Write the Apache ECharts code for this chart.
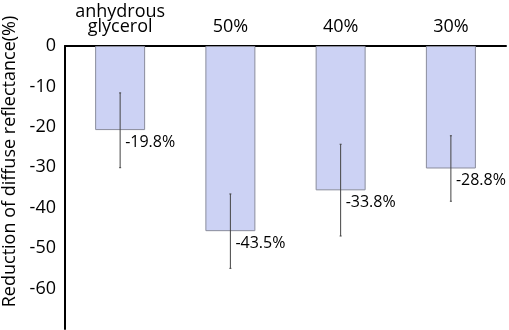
<!DOCTYPE html>
<html>
<head>
<meta charset="utf-8">
<script src="https://cdn.jsdelivr.net/npm/echarts@6/dist/echarts.min.js"></script>
<style>
  html, body { margin: 0; padding: 0; background: #fff; }
  #chart { width: 509px; height: 330px; }
</style>
</head>
<body>
<div id="chart"></div>
<script>
const categorias = ['anhydrous\nglycerol', '50%', '40%', '30%'];
const valores = [-20.8, -45.8, -35.7, -30.3];
const errorArriba = [-11.6, -36.6, -24.3, -22.2];
const errorAbajo = [-30.1, -55.0, -47.0, -38.4];
const etiquetas = ['-19.8%', '-43.5%', '-33.8%', '-28.8%'];

const fuente = "'Open Sans', 'Noto Sans', sans-serif";

const chart = echarts.init(document.getElementById('chart'));

chart.setOption({
    animation: false,
    grid: { left: 65, right: 3, top: 46, bottom: 1, containLabel: false, outerBoundsMode: 'none' },
    xAxis: {
        type: 'category',
        position: 'top',
        data: categorias,
        axisLine: { lineStyle: { color: '#000', width: 2 } },
        axisTick: { show: false },
        axisLabel: {
            interval: 0,
            color: '#000',
            fontSize: 18,
            fontFamily: fuente,
            lineHeight: 15,
            margin: 12
        }
    },
    yAxis: {
        type: 'value',
        min: -70,
        max: 0,
        interval: 10,
        name: 'Reduction of diffuse reflectance(%)',
        nameLocation: 'middle',
        nameRotate: 90,
        nameGap: 43,
        nameTextStyle: {
            color: '#000',
            fontSize: 18,
            fontFamily: fuente,
            padding: [0, 0, 0, 52]
        },
        axisLine: { show: true, lineStyle: { color: '#000', width: 2 } },
        axisTick: { show: false },
        splitLine: { show: false },
        axisLabel: {
            color: '#000',
            fontSize: 18,
            fontFamily: fuente,
            margin: 9,
            showMinLabel: false
        }
    },
    series: [
        {
            type: 'bar',
            data: valores,
            barWidth: 50,
            itemStyle: {
                color: '#ccd2f4',
                borderColor: '#8a8c9c',
                borderWidth: 1
            }
        },
        {
            type: 'custom',
            data: categorias.map((c, i) => [i, errorArriba[i], errorAbajo[i], valores[i]]),
            z: 5,
            renderItem: function (params, api) {
                const i = api.value(0);
                const arriba = api.coord([i, api.value(1)]);
                const abajo = api.coord([i, api.value(2)]);
                const medio = api.coord([i, api.value(3)]);
                const estilo = { stroke: '#444', lineWidth: 1 };
                return {
                    type: 'group',
                    children: [
                        { type: 'line', shape: { x1: arriba[0], y1: arriba[1], x2: abajo[0], y2: abajo[1] }, style: estilo },
                        { type: 'line', shape: { x1: arriba[0] - 1, y1: arriba[1], x2: arriba[0] + 1, y2: arriba[1] }, style: estilo },
                        { type: 'line', shape: { x1: abajo[0] - 1, y1: abajo[1], x2: abajo[0] + 1, y2: abajo[1] }, style: estilo },
                        {
                            type: 'text',
                            x: medio[0] + 5,
                            y: medio[1] + 12,
                            style: {
                                text: etiquetas[params.dataIndex],
                                fill: '#000',
                                fontSize: 16,
                                fontFamily: fuente,
                                align: 'left',
                                verticalAlign: 'middle'
                            }
                        }
                    ]
                };
            }
        }
    ]
});
</script>
</body>
</html>
